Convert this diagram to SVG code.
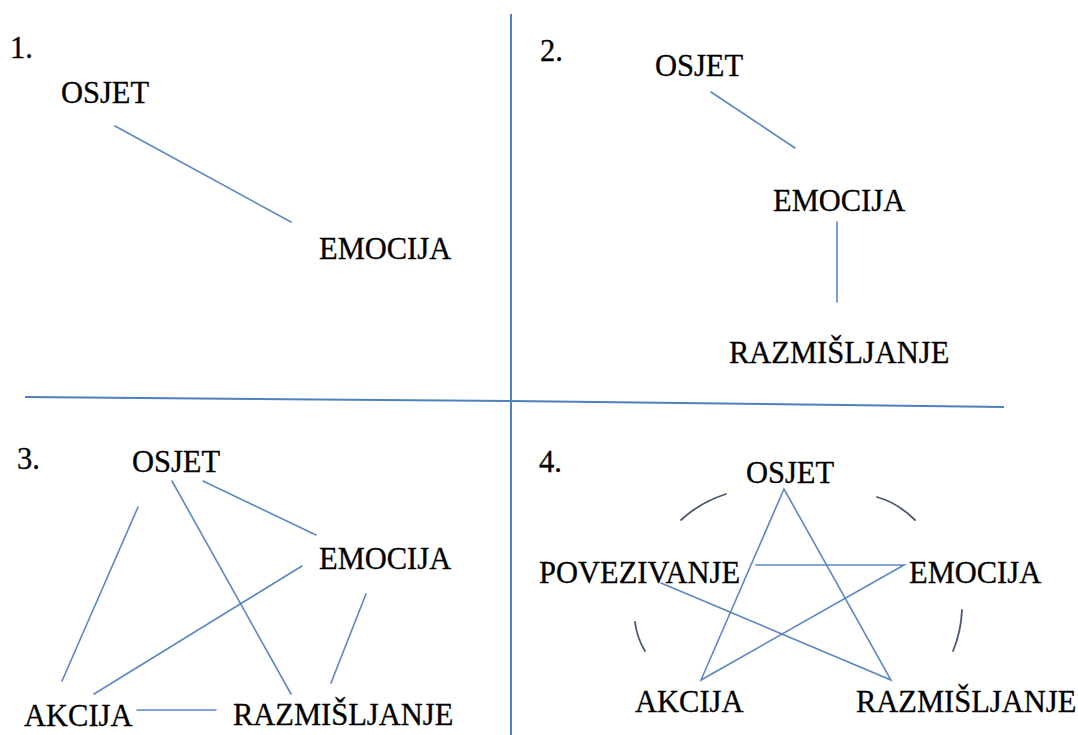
<svg xmlns="http://www.w3.org/2000/svg" width="1078" height="735" viewBox="0 0 1078 735">
<style>
text{font-family:'Liberation Serif','Times New Roman','DejaVu Serif',serif;font-size:30.5px;fill:#000;stroke:#000;stroke-width:0.3}
.c{stroke:#5b87c6;stroke-width:1.6;fill:none;stroke-linecap:round}
.d{stroke:#4f81bd;stroke-width:2;fill:none}
.a{stroke:#4a5870;stroke-width:1.8;fill:none;stroke-linecap:round}
</style>
<rect width="1078" height="735" fill="#fff"/>
<g id="dividers">
<line class="d" x1="511" y1="14" x2="511" y2="735"/>
<polyline class="d" points="25,397 511,401 1004,407"/>
</g>
<g id="labels">
<text x="10" y="58">1.</text>
<text x="540" y="61">2.</text>
<text x="17" y="469">3.</text>
<text x="539" y="472">4.</text>
</g>
<g id="connectors">
<line class="c" x1="115" y1="126" x2="291" y2="222"/>
<line class="c" x1="711" y1="92" x2="795" y2="148"/>
<line class="c" x1="837" y1="222" x2="837" y2="302"/>
<line class="c" x1="203" y1="481" x2="316" y2="535"/>
<line class="c" x1="172" y1="481" x2="291" y2="694"/>
<line class="c" x1="138" y1="507" x2="62" y2="681"/>
<line class="c" x1="302" y1="566" x2="94" y2="694"/>
<line class="c" x1="366" y1="594" x2="331" y2="683"/>
<line class="c" x1="137" y1="710" x2="216" y2="710"/>
<polyline class="c" stroke-linejoin="miter" points="661,583 891,680 784,489 701,680 904,565 756,565"/>
<path class="a" d="M681,520 Q699,503 726,494"/>
<path class="a" d="M877,497 Q898,503 915,520"/>
<path class="a" d="M635,622 Q637,638 645,651"/>
<path class="a" d="M962,610 Q961,632 953,651"/>
</g>
<g id="p1-osjet"><text x="61" y="103">OSJET</text></g>
<g id="p1-emocija"><text x="319" y="259">EMOCIJA</text></g>
<g id="p2-osjet"><text x="655" y="76">OSJET</text></g>
<g id="p2-emocija"><text x="773" y="211">EMOCIJA</text></g>
<g id="p2-razmisljanje"><text x="729" y="363">RAZMIŠLJANJE</text></g>
<g id="p3-osjet"><text x="132" y="472">OSJET</text></g>
<g id="p3-emocija"><text x="319" y="569">EMOCIJA</text></g>
<g id="p3-akcija"><text x="24" y="726">AKCIJA</text></g>
<g id="p3-razmisljanje"><text x="233" y="725">RAZMIŠLJANJE</text></g>
<g id="p4-osjet"><text x="746" y="483">OSJET</text></g>
<g id="p4-povezivanje"><text x="539" y="583">POVEZIVANJE</text></g>
<g id="p4-emocija"><text x="909" y="583">EMOCIJA</text></g>
<g id="p4-akcija"><text x="635" y="712">AKCIJA</text></g>
<g id="p4-razmisljanje"><text x="856" y="712">RAZMIŠLJANJE</text></g>
</svg>
